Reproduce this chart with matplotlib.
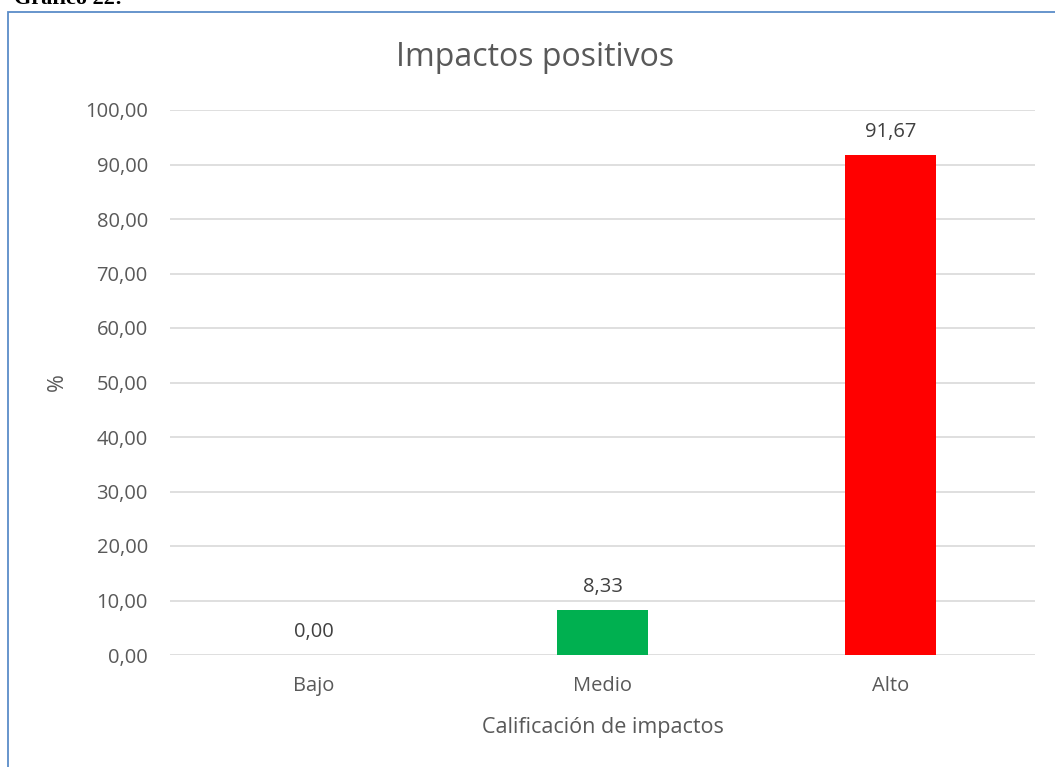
import matplotlib.pyplot as plt
from matplotlib.patches import Rectangle

categorias = ['Bajo', 'Medio', 'Alto']
porcentajes = [0.00, 8.33, 91.67]
colores = ['#4472c4', '#00b050', '#ff0000']
ticks_y = [0, 10, 20, 30, 40, 50, 60, 70, 80, 90, 100]

W, H = 1055, 767
texto = '#595959'

fig = plt.figure(figsize=(W / 100, H / 100), dpi=100)
plt.rcParams['font.family'] = ['Open Sans', 'DejaVu Sans']

# plot area in pixels: x 170..1035, y 110..655
ax = fig.add_axes([170 / W, 1 - 655 / H, 865 / W, 545 / H])

x = range(len(categorias))
ax.bar(x, porcentajes, width=0.316, color=colores, zorder=3)
for i, v in enumerate(porcentajes):
    ax.text(i, v + 2.4, f'{v:.2f}'.replace('.', ','), ha='center', va='bottom',
            fontsize=14.5, color='#404040', zorder=4)

ax.set_xlim(-0.5, 2.5)
ax.set_ylim(0, 100)
ax.set_yticks(ticks_y)
ax.set_yticklabels([f'{t:.2f}'.replace('.', ',') for t in ticks_y])
ax.set_xticks(list(x))
ax.set_xticklabels(categorias)
ax.tick_params(axis='both', length=0, labelsize=14.5, labelcolor=texto)
ax.tick_params(axis='y', pad=16)
ax.tick_params(axis='x', pad=15)
ax.yaxis.grid(True, color='#d9d9d9', linewidth=1.2, zorder=0)
for s in ax.spines.values():
    s.set_visible(False)

ax.set_xlabel('Calificación de impactos', fontsize=15.5, color=texto, labelpad=15)
ax.set_ylabel('%', fontsize=15.5, color=texto, labelpad=12)
fig.text(535 / W, 1 - 58 / H, 'Impactos positivos', ha='center', va='center',
         fontsize=23, color=texto)

# chart frame, cut at the right and bottom edges
fig.patches.append(Rectangle((7.5 / W, -0.1), 1.2, 1 - 11.5 / H + 0.1,
                             transform=fig.transFigure, fill=False,
                             edgecolor='#5b8cc8', linewidth=1.3))
fig.text(14 / W, 1 - 4 / H, 'Gráfico 22:', ha='left', va='baseline',
         fontsize=16, fontweight='bold', family='Liberation Serif')

fig.savefig('out.png', dpi=100)
